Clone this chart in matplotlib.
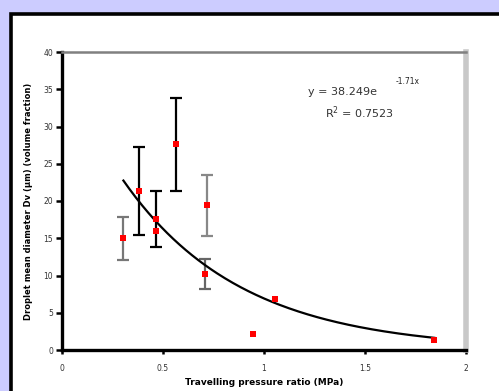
import numpy as np
import matplotlib
matplotlib.use('Agg')
import matplotlib.pyplot as plt
from matplotlib.patches import Rectangle

# measured points (pressure ratio vs droplet diameter) with error bars
x_vals = [0.304, 0.383, 0.464, 0.465, 0.563, 0.716, 0.707, 1.053, 0.946, 1.843]
y_vals = [15.0, 21.3, 17.6, 16.0, 27.6, 19.4, 10.2, 6.8, 2.2, 1.35]
y_err = [2.9, 5.9, 3.8, 0.0, 6.2, 4.1, 2.0, 0.0, 0.0, 0.0]
err_colors = ['#777777', 'black', 'black', 'black', 'black', '#888888',
              '#666666', 'black', 'black', 'black']

# exponential trend line y = a * exp(b * x)
fit_a = 38.249
fit_b = -1.71
eq_text = 'y = 38.249e'
eq_sup = '-1.71x'
r2_text = 'R$^2$ = 0.7523'

xticks = [0, 0.5, 1, 1.5, 2]
xtick_labels = ['0', '0.5', '1', '1.5', '2']
yticks = [0, 5, 10, 15, 20, 25, 30, 35, 40]

W, H = 499, 391
fig = plt.figure(figsize=(W / 100, H / 100), dpi=100)
fig.patch.set_facecolor('#CCCCFF')

# white panel with black border (right/bottom run off the figure)
panel = Rectangle((10.5 / W, -0.1), 1.2, 1 - 13.5 / H + 0.1, transform=fig.transFigure,
                  facecolor='white', edgecolor='black', linewidth=2.6, zorder=-5)
fig.patches.append(panel)

ax = fig.add_axes([62 / W, (H - 350) / H, (466 - 62) / W, (350 - 52) / H])
ax.set_facecolor('white')

for xi, yi, ei, c in zip(x_vals, y_vals, y_err, err_colors):
    if ei > 0:
        ax.errorbar(xi, yi, yerr=ei, fmt='none', ecolor=c, elinewidth=1.6,
                    capsize=4.5, capthick=1.6, zorder=2)

xs = np.linspace(min(x_vals), max(x_vals), 200)
ax.plot(xs, fit_a * np.exp(fit_b * xs), color='black', lw=1.6, zorder=3)
ax.plot(x_vals, y_vals, 's', color='#FF0000', markersize=4, markeredgewidth=0, zorder=4)

ax.set_xlim(0, 2)
ax.set_ylim(0, 40)
ax.set_xticks(xticks)
ax.set_xticklabels(xtick_labels)
ax.set_yticks(yticks)
ax.tick_params(axis='both', labelsize=5.5, width=1.8, color='black', labelcolor='#333333')
ax.tick_params(axis='y', length=4, pad=2.5)
ax.tick_params(axis='x', length=3, pad=7)

ax.spines['left'].set_linewidth(2.4)
ax.spines['bottom'].set_linewidth(2.4)
ax.spines['top'].set_color('#808080')
ax.spines['top'].set_linewidth(1.8)
ax.spines['right'].set_color('#C8C8C8')
ax.spines['right'].set_linewidth(4)

ax.set_xlabel('Travelling pressure ratio (MPa)', fontsize=6.5, fontweight='bold', labelpad=4)
ax.set_ylabel('Droplet mean diameter Dv (\u00b5m) (volume fraction)', fontsize=6,
              fontweight='bold', labelpad=7)

ax.text(0.61, 0.865, eq_text, transform=ax.transAxes, fontsize=8, ha='left', va='center',
        color='#333333')
ax.text(0.825, 0.9, eq_sup, transform=ax.transAxes, fontsize=5.5, ha='left', va='center',
        color='#222222')
ax.text(0.65, 0.795, r2_text, transform=ax.transAxes, fontsize=8, ha='left', va='center',
        color='#333333')

fig.savefig('out.png', dpi=100, facecolor=fig.get_facecolor())
